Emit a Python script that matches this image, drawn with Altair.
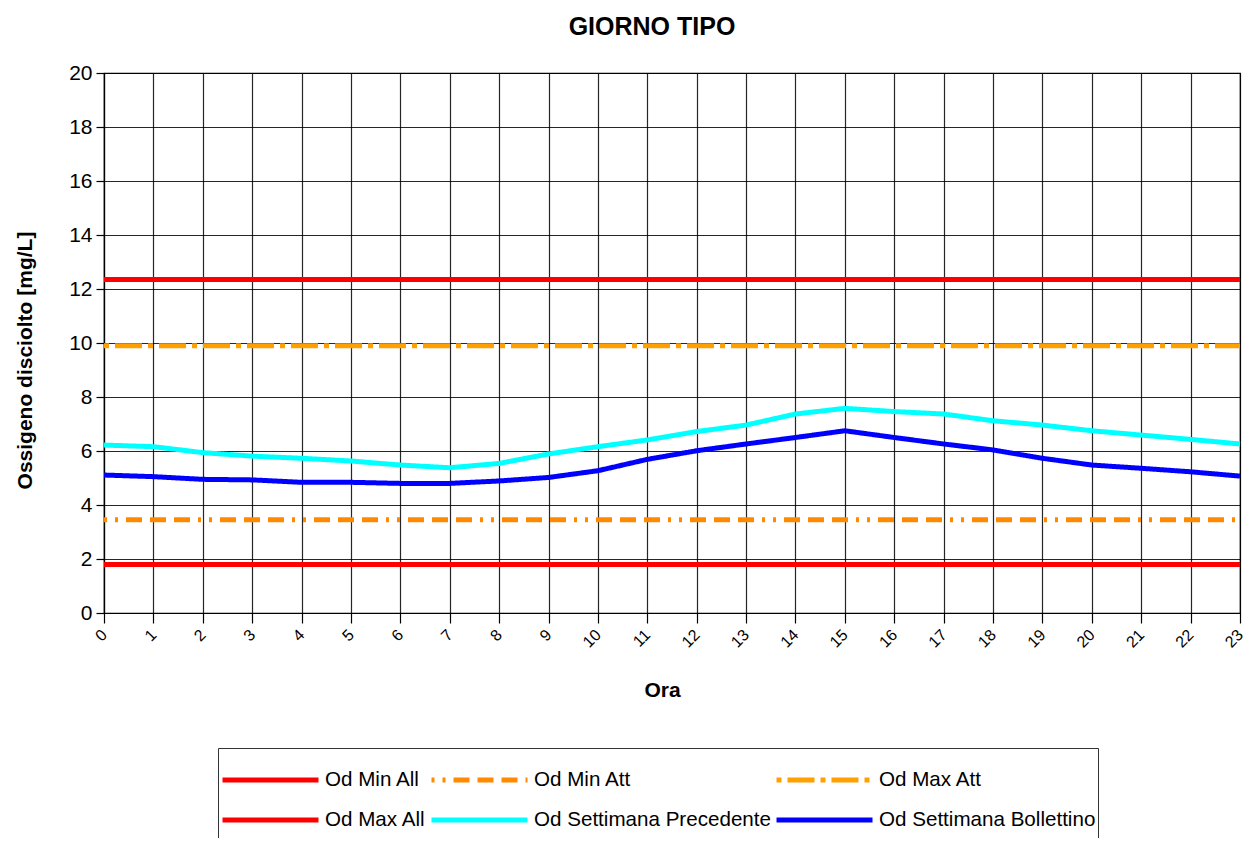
import altair as alt
import pandas as pd

# ---- data ----
hours = list(range(24))
od_settimana_precedente = [6.22, 6.16, 5.94, 5.81, 5.73, 5.63, 5.48, 5.38, 5.54, 5.89,
                           6.16, 6.41, 6.72, 6.96, 7.37, 7.58, 7.46, 7.37, 7.12, 6.96,
                           6.75, 6.59, 6.43, 6.26]
od_settimana_bollettino = [5.11, 5.05, 4.95, 4.93, 4.84, 4.84, 4.80, 4.80, 4.89, 5.02,
                           5.27, 5.69, 6.01, 6.26, 6.50, 6.75, 6.50, 6.26, 6.04, 5.73,
                           5.48, 5.36, 5.23, 5.07]
od_min_all = 1.80
od_max_all = 12.35
od_min_att = 3.45
od_max_att = 9.90

# legend entries are laid out column by column (2 rows x 3 columns)
series_names = ["Od Min All", "Od Max All", "Od Min Att",
                "Od Settimana Precedente", "Od Max Att", "Od Settimana Bollettino"]
series_colors = ["#FF0000", "#FF0000", "#FF8A00", "#00FFFF", "#FFA000", "#0000FF"]
series_dash = [[1, 0], [1, 0], [3, 8, 3, 8, 16, 8, 16, 8, 16, 8], [1, 0], [5, 6, 27, 6], [1, 0]]

y_ticks = list(range(0, 21, 2))

series_values = {
    "Od Min All": [od_min_all] * len(hours),
    "Od Min Att": [od_min_att] * len(hours),
    "Od Max Att": [od_max_att] * len(hours),
    "Od Max All": [od_max_all] * len(hours),
    "Od Settimana Precedente": od_settimana_precedente,
    "Od Settimana Bollettino": od_settimana_bollettino,
}

draw_order = ["Od Min All", "Od Min Att", "Od Max Att", "Od Max All",
              "Od Settimana Precedente", "Od Settimana Bollettino"]

rows = []
for i, name in enumerate(draw_order):
    for h, v in zip(hours, series_values[name]):
        rows.append({"Ora": h, "Valore": v, "Serie": name, "k": i})
df = pd.DataFrame(rows)

FONT = "Liberation Sans"

legend_def = dict(
    title=" ", titleFontSize=10, titlePadding=0,
    orient="none", legendX=114, legendY=675,
    columns=3, symbolType="stroke", symbolSize=9216, symbolStrokeWidth=5,
    clipHeight=40, rowPadding=0, columnPadding=3, labelOffset=4,
    labelFontSize=20.6, labelFont=FONT, labelColor="#000000", labelLimit=400,
    padding=2, strokeColor="#333333", fillColor="#FFFFFF", symbolOffset=0,
)

chart = alt.Chart(df).mark_line(strokeWidth=5, strokeCap="butt").encode(
    x=alt.X("Ora:Q",
            scale=alt.Scale(domain=[0, 23], nice=False, zero=False),
            axis=alt.Axis(values=hours, title="Ora", tickSize=10, labelAngle=-45,
                          labelFontSize=16, labelAlign="right", labelBaseline="middle",
                          labelPadding=9, labelFlush=False, labelOverlap=False,
                          titleX=558, titleY=77, titleAlign="center",
                          titleBaseline="middle")),
    y=alt.Y("Valore:Q",
            scale=alt.Scale(domain=[0, 20], nice=False),
            axis=alt.Axis(values=y_ticks, title="Ossigeno disciolto [mg/L]",
                          tickSize=8, labelFontSize=21, labelPadding=4,
                          titleX=-79, titleY=287, titleAngle=-90, titleAlign="center",
                          titleBaseline="middle")),
    color=alt.Color("Serie:N",
                    scale=alt.Scale(domain=series_names, range=series_colors),
                    legend=alt.Legend(**legend_def)),
    strokeDash=alt.StrokeDash("Serie:N",
                              scale=alt.Scale(domain=series_names, range=series_dash),
                              legend=alt.Legend(**legend_def)),
    detail="k:O",
).properties(
    width=1136,
    height=540,
    title=alt.Title("GIORNO TIPO", fontSize=25, font=FONT, fontWeight="bold",
                    color="#000000", anchor="middle", dx=-20, offset=22),
    autosize=alt.AutoSizeParams(type="none"),
    padding={"left": 96, "top": 65, "right": 5, "bottom": 225},
).configure_axis(
    labelFont=FONT, titleFont=FONT, labelColor="#000000", titleColor="#000000",
    titleFontSize=21, titleFontWeight="bold",
    grid=True, gridColor="#000000", gridWidth=1.2, gridOpacity=0.85,
    domainColor="#000000", domainWidth=1.2, tickColor="#000000", tickWidth=1.2,
).configure_view(
    stroke="#000000", strokeWidth=1.2,
)

chart.save("out.html", embed_options={"renderer": "svg", "actions": False})
